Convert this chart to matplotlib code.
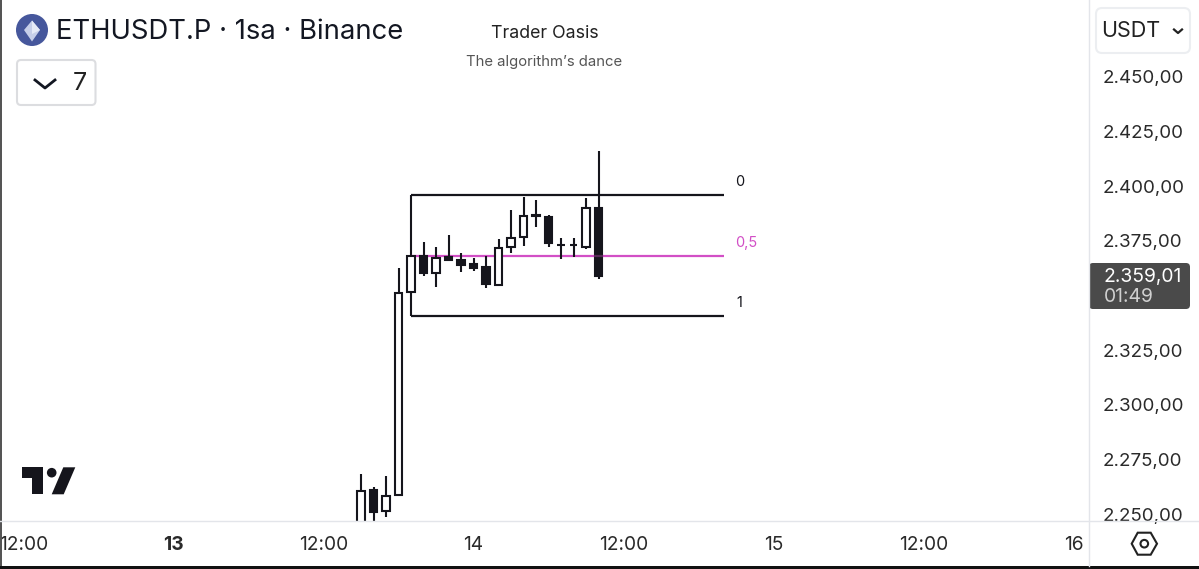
import matplotlib
matplotlib.use('Agg')
import matplotlib.pyplot as plt
from matplotlib.patches import Circle, FancyBboxPatch, Polygon, Rectangle

plt.rcParams['font.family'] = ['Inter', 'DejaVu Sans']

W, H = 1199, 569
PANE_R, PANE_B = 1088.5, 520.5  # pixel edges of the price pane
DARK = '#15151c'

# hours counted from the start of the 13th
hours = [15, 16, 17, 18, 19, 20, 21, 22, 23, 24, 25, 26, 27, 28, 29, 30, 31, 32, 33, 34]
opens = [2240, 2261.0, 2251.4, 2258.7, 2351.6, 2368.1, 2360.2, 2367.5, 2366.2, 2364.3,
         2362.9, 2354.7, 2372.1, 2376.6, 2386.7, 2385.9, 2373.2, 2373.1, 2372.3, 2389.9]
highs = [2268.3, 2262.2, 2267.5, 2362.6, 2368.1, 2374.5, 2372.3, 2377.7, 2369.6, 2367,
         2368.2, 2375.7, 2389, 2395.1, 2393.6, 2386.7, 2376.5, 2376.5, 2394.6, 2416.1]
lows = [2240, 2240, 2248.6, 2258.7, 2351.6, 2359.1, 2353.8, 2365.7, 2360.8, 2361.1,
        2353.5, 2354.7, 2369.3, 2372.7, 2381.2, 2372.0, 2366.6, 2367.8, 2371.4, 2357.6]
closes = [2260.7, 2251.1, 2258.2, 2351.3, 2368.1, 2360.2, 2367.3, 2366.2, 2364.1, 2362.7,
          2355.1, 2371.9, 2376.3, 2386.2, 2386.2, 2374.0, 2373.2, 2373.1, 2389.9, 2359.1]

fib_levels = [2396.0, 2368.1, 2340.6]
fib_labels = ['0', '0,5', '1']
fib_colors = [DARK, '#d24fc6', DARK]
fib_start, fib_end = 19, 44

price_ticks = [2450, 2425, 2400, 2375, 2325, 2300, 2275, 2250]
price_labels = ['2.450,00', '2.425,00', '2.400,00', '2.375,00',
                '2.325,00', '2.300,00', '2.275,00', '2.250,00']
time_ticks = [-12, 0, 12, 24, 36, 48, 60, 72]
time_labels = ['12:00', '13', '12:00', '14', '12:00', '15', '12:00', '16']

fig = plt.figure(figsize=(W / 100, H / 100), dpi=100, facecolor='white')

# price pane, limits chosen so 25 USDT is about 54.6 px
ax = fig.add_axes([0, 1 - PANE_B / H, PANE_R / W, PANE_B / H])
ax.set_xlim(-173.5 / 12.5, (PANE_R - 173.5) / 12.5)
ax.set_ylim(2450 - (PANE_B - 77) / 2.185, 2450 + 77 / 2.185)
for s in ax.spines.values():
    s.set_visible(False)
ax.set_xticks([])
ax.yaxis.tick_right()
ax.set_yticks(price_ticks, price_labels)
ax.tick_params(axis='y', length=0, pad=10.3, labelsize=13.5, labelcolor='#2a2a2a')
for lab in ax.get_yticklabels():
    lab.set_ha('left')

for h, o, hi, lo, c in zip(hours, opens, highs, lows, closes):
    up = c >= o
    ax.vlines(h, lo, hi, color=DARK, lw=1.5, zorder=3)
    ax.bar(h, abs(c - o), bottom=min(o, c), width=0.62,
           facecolor='white' if up else DARK, edgecolor=DARK, lw=1.5, zorder=4)

# fib retracement
ax.vlines(fib_start, fib_levels[2], fib_levels[0], color=DARK, lw=1.5, zorder=2)
for lvl, lab, col in zip(fib_levels, fib_labels, fib_colors):
    ax.hlines(lvl, fib_start, fib_end, color=col, lw=1.6, zorder=2)
    ax.annotate(lab, (fib_end, lvl), xytext=(12 if lab != '1' else 13, 13), textcoords='offset pixels',
                fontsize=10.5, color=col, va='center', ha='left')
# the mid line shows faintly through the last black body
ax.hlines(fib_levels[1], 33.6, 34.4, color=fib_colors[1], lw=1.6, alpha=0.35, zorder=5)

# time scale
ax_t = fig.add_axes([0, 1 - 566 / H, PANE_R / W, (566 - PANE_B) / H], facecolor='white', zorder=3)
ax_t.set_xlim(ax.get_xlim())
ax_t.set_yticks([])
for s in ax_t.spines.values():
    s.set_visible(False)
ax_t.set_xticks(time_ticks, time_labels)
ax_t.tick_params(axis='x', length=0, pad=-21.6, labelsize=13.8, labelcolor='#2a2a2a')
for lab in ax_t.get_xticklabels():
    if lab.get_text() == '13':
        lab.set_fontweight('bold')

# overlay in pixel coordinates for the header, tags and logos
ui = fig.add_axes([0, 0, 1, 1], zorder=5)
ui.set_xlim(0, W)
ui.set_ylim(H, 0)
ui.axis('off')
ui.patch.set_alpha(0)

ui.plot([PANE_R, PANE_R], [0, 566], color='#e3e5ea', lw=1)
ui.plot([0, W], [PANE_B, PANE_B], color='#e3e5ea', lw=1)
ui.add_patch(Rectangle((0, 0), 1.5, 566, color='#555555', lw=0))
ui.add_patch(Rectangle((0, 566), W, 3, color='#111111', lw=0))

# symbol row
ui.add_patch(Circle((32, 30), 16, color='#46579c', lw=0))
ui.add_patch(Polygon([(32, 20.5), (40, 30), (32, 41.5), (24, 30)], color='#c6cee9', lw=0))
ui.add_patch(Polygon([(32, 20.5), (40, 30), (32, 34)], color='#e6eaf7', lw=0))
ui.text(56.5, 31.5, 'ETHUSDT.P · 1sa · Binance', fontsize=19.75, color='#131722', va='center')
ui.text(544.5, 33.5, 'Trader Oasis', fontsize=12.8, color='#222222', ha='center', va='center')
ui.text(544.5, 61.5, 'The algorithm’s dance', fontsize=10.7, color='#555555', ha='center', va='center')

# collapse button
ui.add_patch(FancyBboxPatch((17, 60), 78.5, 45, boxstyle='round,pad=0,rounding_size=4',
                            fc='white', ec='#dcdde0', lw=1.5))
ui.plot([35, 45, 55], [80, 88, 80], color='#131722', lw=2)
ui.text(79.5, 83, '7', fontsize=18, color='#222222', ha='center', va='center')

# currency button
ui.add_patch(FancyBboxPatch((1096, 8), 94, 45, boxstyle='round,pad=0,rounding_size=6',
                            fc='white', ec='#eceef1', lw=1.5))
ui.text(1101, 31, 'USDT', fontsize=15.5, color='#222222', va='center')
ui.plot([1174, 1178, 1182], [29.5, 33, 29.5], color='#222222', lw=1.6)

# last price tag
ui.add_patch(FancyBboxPatch((1089, 263), 101, 46, boxstyle='round,pad=0,rounding_size=4',
                            fc='#4a4a4a', ec='none'))
ui.text(1103.5, 276.5, '2.359,01', fontsize=13.9, color='white', va='center')
ui.text(1103.5, 296.5, '01:49', fontsize=13.9, color='#d0d0d0', va='center')

# TradingView mark
ui.add_patch(Polygon([(21.7, 467.3), (43.3, 467.3), (43.3, 494.3), (32.3, 494.3),
                      (32.3, 478.3), (21.7, 478.3)], color=DARK, lw=0))
ui.add_patch(Circle((51.7, 472.7), 4.8, color=DARK, lw=0))
ui.add_patch(Polygon([(63.3, 467.3), (75.3, 467.3), (63.7, 494.3), (51.7, 494.3)], color=DARK, lw=0))

# settings icon
ui.add_patch(Polygon([(1131.7, 543.7), (1137.7, 532.7), (1150.7, 532.7), (1157, 543.7),
                      (1150.7, 554.7), (1137.7, 554.7)], fc='none', ec='#222222', lw=1.5))
ui.add_patch(Circle((1144.3, 543.7), 3.8, fc='none', ec='#222222', lw=1.5))

fig.savefig('out.png', dpi=100)
